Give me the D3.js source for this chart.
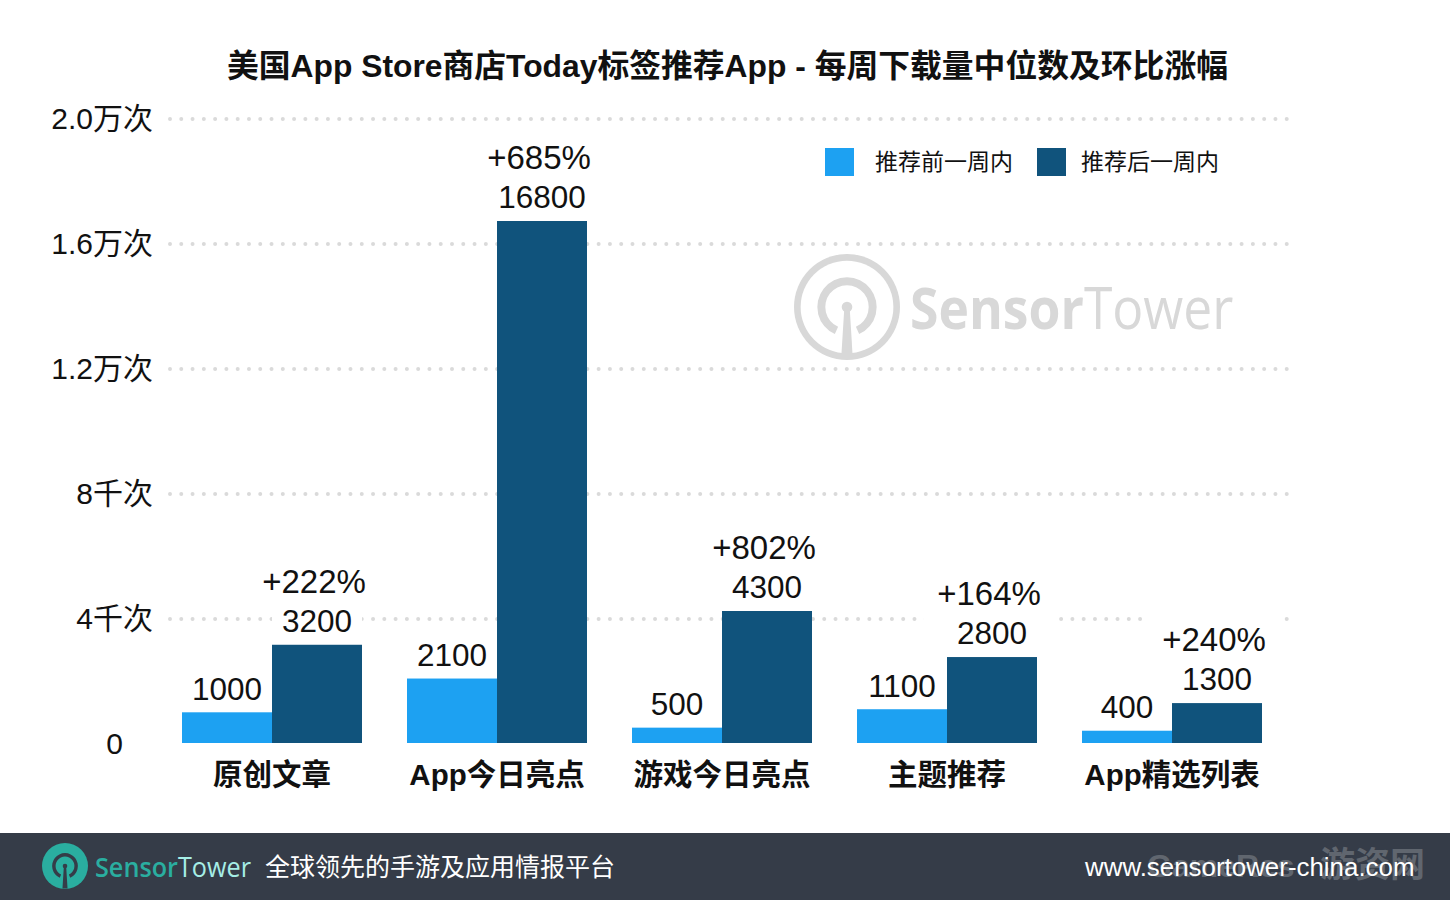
<!DOCTYPE html>
<html>
<head>
    <meta charset="utf-8">
    <title>Today标签推荐App</title>
    <script src="https://d3js.org/d3.v7.min.js"></script>
    <style>
        html, body { margin: 0; padding: 0; background: #fff; }
        svg { display: block; }
        text { font-family: "Liberation Sans", "Noto Sans CJK SC", sans-serif; fill: #111; }
        .grid line { stroke: #dadada; stroke-width: 4px; stroke-linecap: round; stroke-dasharray: 0 11.28; }
        .cat { font-size: 29.5px; font-weight: 700; text-anchor: middle; }
        .val { font-size: 31.5px; text-anchor: middle; }
        .pct { font-size: 33px; text-anchor: middle; }
        .tick-label { font-size: 30px; text-anchor: end; }
        .legend { font-size: 23px; }
    </style>
</head>
<body>
<script>
    var categories = ["原创文章", "App今日亮点", "游戏今日亮点", "主题推荐", "App精选列表"];
    var before = [1000, 2100, 500, 1100, 400];
    var after = [3200, 16800, 4300, 2800, 1300];
    var growth = ["+222%", "+685%", "+802%", "+164%", "+240%"];
    var ticks = [0, 4000, 8000, 12000, 16000, 20000];
    var tickLabels = ["0", "4千次", "8千次", "1.2万次", "1.6万次", "2.0万次"];
    var seriesNames = ["推荐前一周内", "推荐后一周内"];
    var colors = ["#1da1f2", "#10537c"];

    var width = 1450, height = 900;
    var svg = d3.select("body").append("svg").attr("width", width).attr("height", height);

    var x0 = d3.scaleBand().domain(categories).range([159.5, 1284.5]).paddingInner(0.2).paddingOuter(0.1);
    var x1 = d3.scaleBand().domain([0, 1]).range([0, x0.bandwidth()]);
    var y = d3.scaleLinear().domain([0, 20000]).range([744, 119]);
    // bars in the source don't quite follow the grid, small ones come out shorter
    var yBar = d3.scaleLinear().domain([0, 4300, 16800]).range([743, 611, 221]);

    svg.append("text").attr("x", 727.5).attr("y", 77)
        .attr("text-anchor", "middle").style("font-size", "31.8px").style("font-weight", 700)
        .text("美国App Store商店Today标签推荐App - 每周下载量中位数及环比涨幅");

    svg.append("g").attr("class", "grid").selectAll("line")
        .data(ticks.slice(1)).enter().append("line")
        .attr("x1", 170).attr("x2", 1288)
        .attr("y1", function(d) { return y(d); })
        .attr("y2", function(d) { return y(d); });

    svg.selectAll(".tick-label").data(ticks).enter().append("text")
        .attr("class", "tick-label")
        .attr("x", function(d) { return d === 0 ? 123 : 153; })
        .attr("y", function(d) { return y(d) + 9.5; })
        .text(function(d, i) { return tickLabels[i]; });

    drawLogo(svg.append("g").attr("transform", "translate(847,307)"), 53, "#d8d8d8", "#fff");
    svg.append("text").attr("transform", "translate(910,329) scale(0.89,1)")
        .style("font-family", "'Open Sans'").style("font-size", "58px")
        .selectAll("tspan").data(["Sensor", "Tower"]).enter().append("tspan")
        .style("font-weight", function(d, i) { return i ? 400 : 700; })
        .style("fill", "#d8d8d8")
        .text(function(d) { return d; });

    var groups = svg.selectAll(".cat-g").data(categories).enter().append("g")
        .attr("transform", function(d) { return "translate(" + x0(d) + ",0)"; });

    // white boxes behind the labels hide the grid, the percent box is wider
    groups.append("rect").attr("x", x1(1)).attr("width", x1.bandwidth())
        .attr("y", function(d, i) { return yBar(after[i]) - 40; })
        .attr("height", 40).attr("fill", "#fff");
    groups.append("rect").attr("x", x1(1) + x1.bandwidth() / 2 - 3 - 65).attr("width", 130)
        .attr("y", function(d, i) { return yBar(after[i]) - 88; })
        .attr("height", 52).attr("fill", "#fff");

    groups.append("rect").attr("x", x1(0)).attr("width", x1.bandwidth())
        .attr("y", function(d, i) { return yBar(before[i]); })
        .attr("height", function(d, i) { return yBar(0) - yBar(before[i]); })
        .attr("fill", colors[0]);
    groups.append("rect").attr("x", x1(1)).attr("width", x1.bandwidth())
        .attr("y", function(d, i) { return yBar(after[i]); })
        .attr("height", function(d, i) { return yBar(0) - yBar(after[i]); })
        .attr("fill", colors[1]);

    groups.append("text").attr("class", "val")
        .attr("x", x1(0) + x1.bandwidth() / 2)
        .attr("y", function(d, i) { return yBar(before[i]) - 12.5; })
        .text(function(d, i) { return before[i]; });
    groups.append("text").attr("class", "val")
        .attr("x", x1(1) + x1.bandwidth() / 2)
        .attr("y", function(d, i) { return yBar(after[i]) - 13; })
        .text(function(d, i) { return after[i]; });
    groups.append("text").attr("class", "pct")
        .attr("x", x1(1) + x1.bandwidth() / 2 - 3)
        .attr("y", function(d, i) { return yBar(after[i]) - 52; })
        .text(function(d, i) { return growth[i]; });

    groups.append("text").attr("class", "cat")
        .attr("x", x0.bandwidth() / 2).attr("y", 785)
        .text(function(d) { return d; });

    var legendX = [825, 1037], legendTextX = [875, 1081];
    seriesNames.forEach(function(name, i) {
        svg.append("rect").attr("x", legendX[i]).attr("y", 148).attr("width", 29).attr("height", 28).attr("fill", colors[i]);
        svg.append("text").attr("class", "legend").attr("x", legendTextX[i]).attr("y", 170).text(name);
    });

    // footer band
    svg.append("rect").attr("x", 0).attr("y", 833).attr("width", width).attr("height", 67).attr("fill", "#353c48");
    drawLogo(svg.append("g").attr("transform", "translate(65,866)"), 23, "#2aaea0", "#353c48");
    svg.append("text").attr("transform", "translate(95,877) scale(0.934,1)")
        .style("font-family", "'Open Sans'").style("font-size", "27px")
        .selectAll("tspan").data(["Sensor", "Tower"]).enter().append("tspan")
        .style("font-weight", function(d, i) { return i ? 400 : 600; })
        .style("fill", function(d, i) { return i ? "#a6eee6" : "#2aaea0"; })
        .text(function(d) { return d; });
    svg.append("text").attr("x", 265).attr("y", 876).style("font-size", "25px").style("fill", "#fff")
        .text("全球领先的手游及应用情报平台");
    svg.append("text").attr("x", 1147).attr("y", 877).style("font-size", "32px").style("font-weight", 700)
        .style("fill", "#60666f").text("GameRes");
    svg.append("text").attr("x", 1320).attr("y", 877).style("font-size", "35px").style("font-weight", 700)
        .style("fill", "#60666f").text("游资网");
    svg.append("text").attr("x", 1085).attr("y", 876).style("font-size", "25.9px").style("fill", "#fff")
        .text("www.sensortower-china.com");

    function drawLogo(g, r, color, bg) {
        var onWhite = bg === "#fff";
        var mark = onWhite ? color : bg;
        g.append("circle").attr("r", r).attr("fill", color);
        g.append("circle").attr("r", r * 0.875).attr("fill", onWhite ? "#fff" : color);
        var arc = d3.arc().innerRadius(r * 0.41).outerRadius(r * 0.56)
            .startAngle(-2.72).endAngle(2.72);
        g.append("path").attr("d", arc()).attr("fill", mark);
        g.append("path")
            .attr("d", "M" + (-r * 0.05) + ",0L" + (r * 0.05) + ",0L" + (r * 0.11) + "," + (r * 0.98)
                + "L" + (-r * 0.11) + "," + (r * 0.98) + "Z")
            .attr("fill", mark);
        g.append("circle").attr("r", r * 0.1).attr("fill", mark);
    }
</script>
</body>
</html>
